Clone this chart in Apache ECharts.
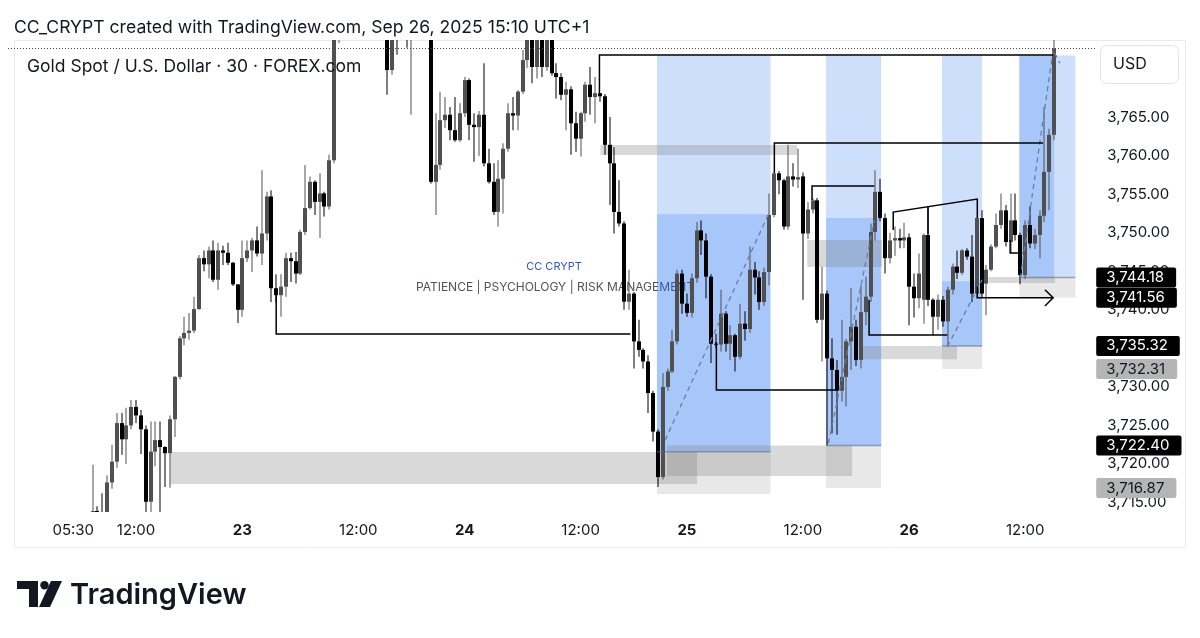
<!DOCTYPE html>
<html><head><meta charset="utf-8">
<script src="https://cdn.jsdelivr.net/npm/echarts/dist/echarts.min.js"></script>
<style>html,body{margin:0;padding:0;background:#fff;}#c{width:1200px;height:638px;}</style>
</head><body><div id="c"></div>
<script>
// ---------- DATA (30-minute candles, Sep 21 23:00 -> Sep 26 15:00, UTC+1) ----------
const opens = [
3684,3688,3692,3690,3695,3698,3696,3700,3703,3701,
3704,3706,3703,3707,3709,3706,3709,3711,3713.9,3713.2,
3712.5,3717.6,3720.3,3725.3,3723.2,3725.0,3727.4,3726.3,3724.5,3715.1,
3721.6,3723.1,3722.2,3721.4,3725.8,3731.3,3736.3,3737.0,3737.3,3740.1,
3746.7,3745.9,3747.7,3743.9,3747.7,3747.4,3746.1,3743.3,3740.0,3746.7,
3747.7,3749.0,3747.3,3749.9,3754.7,3742.8,3741.9,3743.0,3746.7,3746.3,
3744.7,3750.1,3753.2,3756.6,3754.0,3755.1,3753.4,3759.4,3778,3782,
3786,3789,3785,3787,3783,3784,3781,3782,3779,3771.1,
3777,3775.3,3778,3776,3777,3779,3778,3777,3756.6,3758.8,
3764.6,3765.3,3763.3,3762.0,3765.5,3769.8,3764.0,3763.7,3765.3,3759.0,
3756.6,3752.7,3757.0,3760.9,3765.5,3765.2,3768.3,3772.4,3776.5,3771.5,
3775.5,3771.5,3776.0,3770.7,3770.2,3767.9,3768.6,3764.2,3762.2,3765.5,
3769.2,3767.6,3768.1,3767.7,3761.4,3759.0,3752.7,3751.2,3741.05,3742.1,
3735.9,3734.8,3733.3,3729.2,3724.2,3718.3,3730.0,3732.0,3735.9,3744.7,
3740.8,3739.6,3744.1,3750.3,3749.0,3744.3,3735.6,3735.5,3739.5,3735.6,
3736.7,3733.9,3738.2,3737.5,3745.2,3744.2,3741.0,3744.9,3752.3,3757.7,
3756.8,3750.8,3757.3,3756.9,3757.3,3749.9,3753.0,3754.2,3738.7,3742.1,
3733.7,3732.2,3729.5,3731.3,3735.9,3737.8,3733.5,3739.7,3741.7,3750.1,
3755.3,3751.9,3746.7,3749.0,3749.3,3749.0,3749.4,3743.0,3741.5,3741.3,
3749.7,3741.3,3739.1,3741.3,3738.5,3742.6,3745.6,3744.8,3747.7,3746.9,
3742.1,3751.9,3743.4,3745.2,3748.2,3751.0,3752.9,3748.8,3751.6,3749.7,
3744.5,3751.0,3748.6,3749.7,3752.2,3757.9,3762.7];
const closes = [
3688,3692,3690,3695,3698,3696,3700,3703,3701,3704,
3706,3703,3707,3709,3706,3709,3711,3713.9,3713.2,3712.5,
3717.6,3720.3,3725.3,3723.2,3725.0,3727.4,3726.3,3724.5,3715.1,3721.6,
3723.1,3722.2,3721.4,3725.8,3731.3,3736.3,3737.0,3737.3,3740.1,3746.7,
3745.9,3747.7,3743.9,3747.7,3747.4,3746.1,3743.3,3740.0,3746.7,3747.7,
3749.0,3747.3,3749.9,3754.7,3742.8,3741.9,3743.0,3746.7,3746.3,3744.7,
3750.1,3753.2,3756.6,3754.0,3755.1,3753.4,3759.4,3778,3782,3786,
3789,3785,3787,3783,3784,3781,3782,3779,3771.1,3777,
3775.3,3778,3776,3777,3779,3778,3777,3756.6,3758.8,3764.6,
3765.3,3763.3,3762.0,3765.5,3769.8,3764.0,3763.7,3765.3,3759.0,3756.6,
3752.7,3757.0,3760.9,3765.5,3765.2,3768.3,3772.4,3776.5,3771.5,3775.5,
3771.5,3776.0,3770.7,3770.2,3767.9,3768.6,3764.2,3762.2,3765.5,3769.2,
3767.6,3768.1,3767.7,3761.4,3759.0,3752.7,3751.2,3741.05,3742.1,3735.9,
3734.8,3733.3,3729.2,3724.2,3718.3,3730.0,3732.0,3735.9,3744.7,3740.8,
3739.6,3744.1,3750.3,3749.0,3744.3,3735.6,3735.5,3739.5,3735.6,3736.7,
3733.9,3738.2,3737.5,3745.2,3744.2,3741.0,3744.9,3752.3,3757.7,3756.8,
3750.8,3757.3,3756.9,3757.2,3749.9,3753.0,3754.2,3738.7,3742.1,3733.7,
3732.2,3729.5,3731.3,3735.9,3737.8,3733.5,3739.7,3741.7,3750.1,3755.3,
3751.9,3746.7,3749.0,3749.3,3749.0,3749.4,3743.0,3741.5,3744.7,3749.7,
3741.3,3739.1,3741.3,3738.5,3742.6,3745.6,3744.8,3747.7,3746.9,3742.1,
3751.9,3742.1,3745.2,3748.2,3751.0,3752.9,3748.8,3751.6,3749.7,3744.5,
3751.0,3748.6,3749.7,3752.2,3757.9,3762.7,3773.9];
const highs = [
3690,3694,3695,3697,3700,3701,3702,3705,3705,3706,
3708,3707,3709,3711,3710,3711,3712.5,3719.9,3714.5,3716.2,
3718.5,3722.5,3726.6,3726.6,3727.3,3728.3,3728.3,3727.0,3725.0,3725.5,
3725.5,3725.5,3722.3,3726.3,3731.4,3736.6,3739.1,3739.6,3741.7,3747.1,
3747.7,3748.2,3749.0,3748.7,3748.3,3748.7,3746.2,3743.3,3749.0,3749.0,
3749.3,3750.8,3758.1,3755.3,3755.5,3744.6,3744.6,3747.4,3747.4,3747.5,
3750.4,3758.8,3757.3,3756.8,3757.7,3755.3,3760.1,3780,3785,3788,
3791,3790,3789,3788,3786,3785,3784,3783,3781,3778,
3779,3780,3780,3779,3781,3782,3780,3778,3765.5,3768.3,
3767.6,3766.3,3767.6,3766.8,3770.2,3770.0,3765.5,3765.8,3772.0,3760.9,
3759.0,3759.4,3761.6,3766.8,3767.6,3768.5,3773.7,3778.0,3777.0,3777.0,
3776.5,3777.5,3777.0,3772.0,3770.7,3769.6,3769.0,3765.7,3765.7,3769.6,
3771.5,3770.2,3768.1,3768.0,3765.0,3761.1,3756.8,3751.5,3745.2,3742.3,
3738.7,3735.0,3734.1,3729.5,3724.5,3731.8,3732.4,3737.4,3745.2,3745.2,
3742.1,3744.7,3751.4,3751.6,3749.9,3744.6,3736.9,3742.6,3739.8,3738.0,
3736.9,3740.8,3739.8,3748.2,3746.2,3745.0,3745.5,3755.1,3757.8,3758.0,
3757.0,3761.4,3759.0,3760.9,3757.8,3754.0,3754.4,3754.5,3745.6,3742.5,
3736.3,3733.5,3738.7,3736.2,3742.8,3738.7,3743.2,3744.3,3751.2,3758.1,
3757.0,3752.5,3750.0,3750.8,3750.5,3751.3,3749.9,3744.7,3747.3,3749.9,
3753.4,3741.5,3742.0,3741.8,3743.0,3746.0,3747.7,3747.9,3748.0,3749.7,
3752.0,3752.9,3745.8,3748.5,3752.5,3755.1,3753.6,3755.1,3755.1,3750.0,
3751.6,3753.4,3750.5,3752.9,3766.3,3763.5,3775.5];
const lows = [
3680,3686,3687,3689,3693,3694,3695,3698,3699,3700,
3702,3701,3702,3705,3704,3705,3707,3710,3711,3710.5,
3711.5,3716.8,3719.5,3721.2,3720.0,3724.5,3725.3,3721.3,3712.0,3712.5,
3719.7,3712.0,3717.0,3716.9,3723.5,3731.0,3735.4,3736.1,3737.0,3740.0,
3745.0,3744.1,3743.6,3742.6,3745.8,3745.8,3743.1,3738.3,3739.1,3746.2,
3744.9,3746.9,3745.8,3749.0,3741.0,3741.0,3739.1,3741.7,3743.6,3743.4,
3744.5,3749.7,3753.0,3752.3,3749.3,3752.1,3753.0,3759.0,3774.6,3780,
3784,3783,3782,3781,3780,3779,3778,3777,3767.9,3770.5,
3773.1,3775.2,3774,3765.3,3776,3776,3775.5,3756.4,3752.3,3758.2,
3763.6,3762.0,3761.8,3761.8,3765.0,3762.0,3759.2,3760.0,3758.6,3756.4,
3752.3,3750.8,3752.5,3760.5,3763.3,3763.3,3768.0,3771.4,3769.4,3770.0,
3770.2,3771.0,3770.4,3767.4,3767.2,3763.3,3760.1,3760.5,3759.9,3764.4,
3765.3,3764.2,3767.0,3760.1,3753.6,3749.9,3750.8,3740.0,3740.0,3732.4,
3733.9,3732.4,3726.6,3722.9,3717.0,3718.0,3729.5,3731.8,3735.5,3739.5,
3739.1,3739.0,3743.5,3747.1,3741.5,3733.1,3735.0,3734.6,3734.6,3733.5,
3732.0,3733.6,3736.0,3737.0,3742.0,3740.0,3740.5,3743.2,3752.0,3755.0,
3750.4,3750.4,3756.0,3755.8,3741.3,3749.2,3752.5,3738.3,3733.3,3722.4,
3724.0,3723.8,3728.1,3727.5,3732.2,3732.7,3732.4,3738.0,3741.0,3749.0,
3751.5,3744.7,3746.0,3747.0,3748.0,3748.0,3738.0,3739.0,3740.2,3738.2,
3740.5,3736.7,3737.4,3737.8,3735.3,3742.0,3744.0,3744.5,3746.5,3741.0,
3741.5,3741.6,3739.3,3745.0,3748.0,3750.5,3748.2,3747.4,3749.0,3743.3,
3744.0,3748.0,3747.9,3746.7,3751.4,3752.9,3762.0];

const lastPrice = 3773.9;
const priceTicks = [3765,3760,3755,3750,3745,3740,3735,3730,3725,3720,3715];
const badgePrices = [3744.18,3741.56,3735.32,3732.31,3722.40,3716.87];
const badgeDark   = [true,true,true,false,true,false];
const timeTickIdx  = [13,26,48,72,94,118,140,164,186,210];
const timeTickText = ['05:30','12:00','23','12:00','24','12:00','25','12:00','26','12:00'];
const timeTickBold = [false,false,true,false,true,false,true,false,true,false];
const futureSlots = 8;

// drawings, in (bar index, price)
const zoneLight = [[133.8,157.3,3773.0,3721.6],[168.8,180.2,3773.0,3722.4],[192.8,201.1,3773.0,3735.32],[208.8,220.4,3773.0,3744.18]];
const zoneDeep  = [[133.8,157.3,3752.4,3721.6],[168.8,180.2,3751.9,3722.4],[192.8,201.1,3743.7,3735.32],[208.8,216.0,3773.0,3744.18]];
const zoneStop  = [[133.8,157.3,3721.6,3716.1],[168.8,180.2,3722.4,3716.87],[192.8,201.1,3735.32,3732.31],[208.8,220.4,3744.18,3741.56]];
const grayBoxes = [[33.1,142.1,3721.55,3717.4],[135.9,174.2,3722.4,3718.44],[122.1,162.8,3761.37,3760.07],[164.9,180.4,3749.05,3745.55],[176.3,195.9,3735.3,3733.6],[202.4,216.2,3744.25,3743.47]];
const solidPaths = [
 [[121.9,3768.1],[121.9,3773.04],[215.8,3773.04]],
 [[55.0,3742.56],[55.0,3736.86],[128.3,3736.86]],
 [[146.1,3735.82],[146.1,3729.6],[170.9,3729.6]],
 [[158.1,3757.74],[158.1,3761.63],[213.7,3761.63]],
 [[165.9,3754.23],[165.9,3756.05],[178.8,3756.05]],
 [[177.7,3741.3],[177.7,3736.73],[193.9,3736.73]],
 [[182.7,3750.34],[182.7,3752.68],[200.1,3754.36],[200.1,3751.9]],
 [[189.9,3753.35],[189.9,3749.8]],
 [[200.1,3743.0],[200.1,3741.56],[215.8,3741.56]],
 [[214.1,3742.6],[215.8,3741.56],[214.1,3740.5]],
 [[206.9,3749.05],[206.9,3747.36],[209.4,3747.36]]
];
const dashedPaths = [
 [[135.5,3723.1],[156.8,3752.3]],
 [[169.3,3722.7],[178.8,3751.6]],
 [[193.9,3735.2],[201.1,3743.9]],
 [[209.0,3744.1],[215.8,3773.7],[217.2,3772.0]]
];
const edgePaths = [
 [[133.8,3721.6],[157.3,3721.6]],
 [[168.8,3722.4],[180.2,3722.4]],
 [[192.8,3735.32],[201.1,3735.32]],
 [[208.8,3744.18],[220.4,3744.18]]
];

// ---------- BUILD ----------
function pad(n){return (n<10?'0':'')+n;}
const cats = ['21 23:00','21 23:30'];
[22,23,24,25,26].forEach(d=>{
  for(let h=0;h<22;h++){ for(const m of ['00','30']){
    if(d===26 && (h>15 || (h===15 && m==='30'))) continue;
    cats.push(d+' '+pad(h)+':'+m);
  }}
  if(d!==26){cats.push(d+' 23:00'); cats.push(d+' 23:30');}
});
for(let k=0;k<futureSlots;k++) cats.push('f'+k);
const N = cats.length;
const candleData = opens.map((o,i)=>[i,o,closes[i],lows[i],highs[i]]);

const F = 'Inter, "Noto Sans", "Liberation Sans", sans-serif';
const fmt = v => Number(v).toLocaleString('en-US',{minimumFractionDigits:2,maximumFractionDigits:2});
const area = (list,color)=>list.map(r=>[{xAxis:r[0],yAxis:r[2],itemStyle:{color:color}},{xAxis:r[1],yAxis:r[3]}]);
const blue = 'rgba(33,110,243,0.22)';
const UP='#505050', DOWN='#000000';

function renderCandle(params, api){
  const i=api.value(0), o=api.value(1), c=api.value(2), l=api.value(3), h=api.value(4);
  const po=api.coord([i,o]);
  const x=Math.round(po[0]);
  const yo=po[1], yc=api.coord([i,c])[1], yl=api.coord([i,l])[1], yh=api.coord([i,h])[1];
  const col = c>=o?UP:DOWN;
  const top=Math.min(yo,yc), hgt=Math.max(Math.abs(yo-yc),1);
  return {type:'group',children:[
    {type:'rect',shape:{x:x-0.5,y:yh,width:1,height:Math.max(yl-yh,1)},style:{fill:col}},
    {type:'rect',shape:{x:x-2,y:top,width:4,height:hgt},style:{fill:col}}
  ]};
}

const chart = echarts.init(document.getElementById('c'));
const ok = opens.length===217 && closes.length===217 && highs.length===217 && lows.length===217;
chart.setOption({
  animation:false,
  backgroundColor:'#ffffff',
  grid:{left:8,top:40,width:1087.2,height:472},
  xAxis:[
    {type:'category',data:cats,boundaryGap:true,axisLine:{show:false},axisTick:{show:false},splitLine:{show:false},
     axisLabel:{interval:(i)=>timeTickIdx.indexOf(i)>=0,
       formatter:(v,i)=>{const k=timeTickIdx.indexOf(i); if(k<0) return ''; return timeTickBold[k]?'{b|'+timeTickText[k]+'}':timeTickText[k];},
       color:'#131722',fontSize:15,fontFamily:F,margin:11,
       rich:{b:{fontWeight:'bold',fontSize:15,color:'#131722',fontFamily:F}}}},
    {type:'value',min:-0.5,max:N-0.5,show:false}
  ],
  yAxis:{type:'value',min:3713.77,max:3775.0,position:'right',axisLine:{show:false},axisTick:{show:false},splitLine:{show:false},
    axisLabel:{show:true,customValues:priceTicks,margin:12,color:'#131722',fontSize:15,fontFamily:F,formatter:v=>fmt(v)}},
  graphic:[
    {type:'rect',z:-1,shape:{x:14.5,y:40.5,width:1171,height:507},style:{fill:'none',stroke:'#e9eaee',lineWidth:1}},
    {type:'text',left:14,top:19,style:{text:'CC_CRYPT created with TradingView.com, Sep 26, 2025 15:10 UTC+1',font:'17.6px '+F,fill:'#131722'}},
    {type:'text',left:27,top:58,z:10,style:{text:'Gold Spot / U.S. Dollar · 30 · FOREX.com',font:'17.5px '+F,fill:'#131722'}},
    {type:'text',z:0,style:{x:554,y:267,text:'CC CRYPT',font:'11px '+F,fill:'#3557c8',textAlign:'center',textVerticalAlign:'middle'}},
    {type:'text',z:0,style:{x:555,y:287,text:'PATIENCE | PSYCHOLOGY | RISK MANAGEMENT',font:'12px '+F,fill:'#50535e',textAlign:'center',textVerticalAlign:'middle'}},
    {type:'rect',z:10,shape:{x:1100.5,y:45.5,width:78,height:38,r:6},style:{fill:'#fff',stroke:'#e0e3eb',lineWidth:1}},
    {type:'text',z:11,style:{x:1113,y:64.5,text:'USD',font:'16px '+F,fill:'#131722',textVerticalAlign:'middle'}},
    {type:'group',left:17,top:581,children:[
      {type:'rect',shape:{x:0,y:0,width:21,height:8},style:{fill:'#131722'}},
      {type:'rect',shape:{x:12,y:0,width:9,height:26},style:{fill:'#131722'}},
      {type:'circle',shape:{cx:27.5,cy:4.2,r:4.2},style:{fill:'#131722'}},
      {type:'polygon',shape:{points:[[22,26],[34,0],[45,0],[33,26]]},style:{fill:'#131722'}}
    ]},
    {type:'text',style:{x:70,y:595,text:'TradingView',font:'600 29px '+F,fill:'#131722',textVerticalAlign:'middle'}},
    ok?{type:'text',style:{text:''}}:{type:'text',style:{x:300,y:300,text:'LENGTH MISMATCH '+opens.length+' '+closes.length+' '+highs.length+' '+lows.length,font:'20px sans-serif',fill:'red'}}
  ],
  series:[
    {type:'scatter',name:'zones',xAxisIndex:1,yAxisIndex:0,data:[],z:1,silent:true,
     markArea:{silent:true,label:{show:false},emphasis:{disabled:true},
       data:[].concat(area(zoneLight,blue),area(zoneDeep,blue),area(zoneStop,'rgba(128,128,128,0.18)'),area(grayBoxes,'rgba(128,128,128,0.30)'))}},
    {type:'custom',name:'XAUUSD',xAxisIndex:0,yAxisIndex:0,data:candleData,z:2,clip:true,silent:true,
     encode:{x:0,y:[1,2,3,4]},renderItem:renderCandle},
    {type:'lines',coordinateSystem:'cartesian2d',xAxisIndex:1,yAxisIndex:0,polyline:true,z:3,silent:true,
     lineStyle:{color:'rgba(90,105,135,0.55)',width:1.5,opacity:1},data:edgePaths.map(c=>({coords:c}))},
    {type:'lines',coordinateSystem:'cartesian2d',xAxisIndex:1,yAxisIndex:0,polyline:true,z:4,silent:true,
     lineStyle:{color:'#6d7f9c',width:1.3,type:[5,4],opacity:1},data:dashedPaths.map(c=>({coords:c}))},
    {type:'lines',coordinateSystem:'cartesian2d',xAxisIndex:1,yAxisIndex:0,polyline:true,z:5,silent:true,
     lineStyle:{color:'#000',width:1.5,opacity:1},data:solidPaths.map(c=>({coords:c}))},
    {type:'scatter',name:'badges',xAxisIndex:1,yAxisIndex:0,data:[],z:7,silent:true,clip:false,
     markLine:{silent:true,symbol:'none',
       label:{position:'end',distance:1,fontSize:15,fontFamily:F,lineHeight:16,padding:[2,12,2,10],borderRadius:2,formatter:p=>fmt(p.value)},
       data:[{yAxis:lastPrice,lineStyle:{color:'#444',type:[1,2],width:1,opacity:1},label:{show:false}}]
         .concat(badgePrices.map((v,k)=>({yAxis:v,lineStyle:{color:'rgba(0,0,0,0)',width:0,opacity:1},label:{show:true,opacity:1,backgroundColor:badgeDark[k]?'#000000':'#b5b5b5',color:badgeDark[k]?'#ffffff':'#131722'}})))}}
  ]
});
</script></body></html>
